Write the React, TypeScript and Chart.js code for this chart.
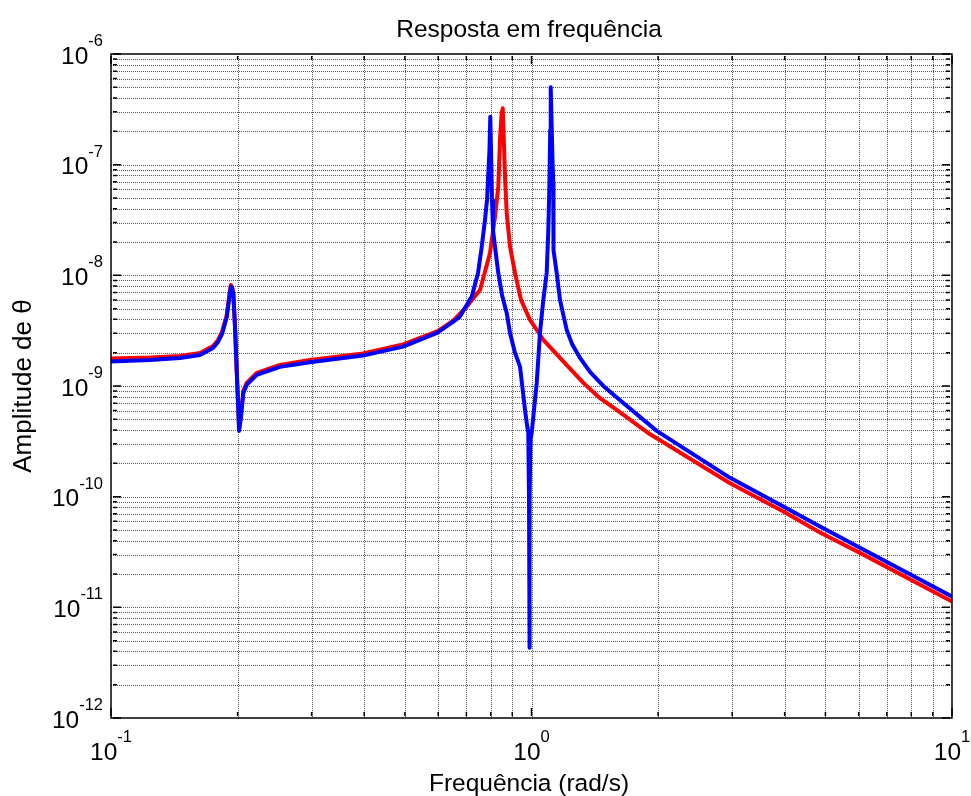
import React, { useEffect, useRef } from "react";
import { Chart, registerables } from "chart.js";

Chart.register(...registerables);

// ---- data (frequency in rad/s, amplitude) ----
const freqBlue = [
  0.1, 0.1238, 0.1459, 0.1628, 0.1748, 0.1797, 0.1837, 0.1885, 0.1912, 0.1927,
  0.194, 0.1954, 0.1972, 0.199, 0.2008, 0.2016, 0.2034, 0.2064, 0.2102, 0.2221,
  0.2523, 0.2973, 0.3975, 0.4949, 0.5963, 0.6507, 0.6761, 0.7014, 0.7209, 0.7462,
  0.7614, 0.7752, 0.7838, 0.7902, 0.7945, 0.798, 0.8011, 0.8055, 0.8099, 0.8188,
  0.8337, 0.8508, 0.873, 0.889, 0.9137, 0.9391, 0.965, 0.9757, 0.9826, 0.9865,
  0.9881, 0.9908, 0.9945, 1.0011, 1.029, 1.0476, 1.0668, 1.0867, 1.0965, 1.1036,
  1.108, 1.111, 1.1158, 1.1218, 1.1267, 1.128, 1.1478, 1.1689, 1.1902, 1.2126,
  1.2484, 1.3043, 1.3775, 1.4817, 1.6534, 1.896, 1.985, 2.966, 3.9717, 4.854,
  6.042, 10,
];
const ampBlue = [
  1.668e-9, 1.721e-9, 1.794e-9, 1.91e-9, 2.209e-9, 2.502e-9, 2.955e-9, 4.209e-9, 6.381e-9, 7.858e-9,
  7.697e-9, 6.792e-9, 3.42e-9, 1.398e-9, 6.083e-10, 3.93e-10, 4.941e-10, 8.664e-10, 1.023e-9, 1.26e-9,
  1.488e-9, 1.641e-9, 1.882e-9, 2.269e-9, 3.018e-9, 3.793e-9, 4.236e-9, 5.402e-9, 6.421e-9, 1.051e-8,
  1.816e-8, 3.167e-8, 4.798e-8, 8.956e-8, 1.358e-7, 2.714e-7, 1.358e-7, 4.798e-8, 2.571e-8, 1.816e-8,
  1.051e-8, 6.652e-9, 4.574e-9, 3.018e-9, 1.991e-9, 1.497e-9, 6.083e-10, 4.452e-10, 3.77e-10, 9.357e-11,
  4.306e-12, 9.357e-11, 3.26e-10, 3.77e-10, 1.067e-9, 3.018e-9, 5.997e-9, 1.051e-8, 2.571e-8, 7.273e-8,
  2.058e-7, 5.002e-7, 2.534e-7, 1.103e-7, 6.834e-8, 1.696e-8, 1.051e-8, 5.997e-9, 4.388e-9, 3.213e-9,
  2.401e-9, 1.794e-9, 1.341e-9, 1.002e-9, 7.035e-10, 4.546e-10, 3.93e-10, 1.479e-10, 8.14e-11, 5.37e-11,
  3.447e-11, 1.252e-11,
];

const freqRed = [
  0.1, 0.1238, 0.1459, 0.1628, 0.1748, 0.1797, 0.1837, 0.1885, 0.1912, 0.1927,
  0.194, 0.1954, 0.1972, 0.199, 0.2008, 0.2016, 0.2034, 0.2064, 0.2102, 0.2221,
  0.2523, 0.2973, 0.3975, 0.4949, 0.5963, 0.6507, 0.7014, 0.7543, 0.7967, 0.8188,
  0.8337, 0.8416, 0.8486, 0.8541, 0.8579, 0.865, 0.873, 0.889, 0.9137, 0.9441,
  0.9918, 1.029, 1.0668, 1.1689, 1.3282, 1.455, 1.5946, 1.896, 1.985, 2.966,
  3.9717, 4.854, 6.042, 10,
];
const ampRed = [
  1.775e-9, 1.813e-9, 1.87e-9, 1.991e-9, 2.302e-9, 2.608e-9, 3.082e-9, 4.388e-9, 6.652e-9, 8.191e-9,
  7.858e-9, 6.934e-9, 3.42e-9, 1.398e-9, 6.342e-10, 4.183e-10, 5.15e-10, 9.031e-10, 1.067e-9, 1.313e-9,
  1.551e-9, 1.721e-9, 1.97e-9, 2.375e-9, 3.114e-9, 3.874e-9, 5.216e-9, 7.383e-9, 1.594e-8, 3.391e-8,
  6.328e-8, 1.672e-7, 2.812e-7, 3.233e-7, 2.058e-7, 7.793e-8, 3.662e-8, 1.816e-8, 1.051e-8, 5.997e-9,
  3.954e-9, 3.213e-9, 2.608e-9, 1.794e-9, 1.067e-9, 7.76e-10, 6.083e-10, 3.746e-10, 3.377e-10, 1.324e-10,
  7.335e-11, 4.74e-11, 3.107e-11, 1.128e-11,
];

const xTickExps = [-1, 0, 1];
const yTickExps = [-12, -11, -10, -9, -8, -7, -6];
const titleText = "Resposta em frequência";
const xLabelText = "Frequência (rad/s)";
const yLabelText = "Amplitude de θ";

const FONT = '"Liberation Sans", Arial, Helvetica, sans-serif';
const BIG = 24.5;
const SMALL = 16.5;
const YLABEL = 26;

function decadeValues(minExp: number, maxExp: number) {
  const out: { v: number; major: boolean }[] = [];
  for (let e = minExp; e <= maxExp; e++) {
    for (let m = 1; m <= 9; m++) {
      if (e === maxExp && m > 1) break;
      out.push({ v: m * Math.pow(10, e), major: m === 1 });
    }
  }
  return out;
}

const matlabAxes = {
  id: "matlabAxes",
  beforeDatasetsDraw(chart: any) {
    const { ctx, chartArea: a, scales } = chart;
    const xs = scales.x;
    const ys = scales.y;
    ctx.save();
    ctx.strokeStyle = "rgba(0,0,0,0.65)";
    ctx.lineWidth = 1;
    ctx.setLineDash([1, 1]);
    for (const t of decadeValues(xTickExps[0], xTickExps[xTickExps.length - 1])) {
      const px = Math.round(xs.getPixelForValue(t.v)) + 0.5;
      if (px <= a.left + 1 || px >= a.right - 1) continue;
      ctx.beginPath();
      ctx.moveTo(px, a.top);
      ctx.lineTo(px, a.bottom);
      ctx.stroke();
    }
    for (const t of decadeValues(yTickExps[0], yTickExps[yTickExps.length - 1])) {
      const py = Math.round(ys.getPixelForValue(t.v)) + 0.5;
      if (py <= a.top + 1 || py >= a.bottom - 1) continue;
      ctx.beginPath();
      ctx.moveTo(a.left, py);
      ctx.lineTo(a.right, py);
      ctx.stroke();
    }
    ctx.restore();
  },
  afterDatasetsDraw(chart: any) {
    const { ctx, chartArea: a, scales } = chart;
    const xs = scales.x;
    const ys = scales.y;
    ctx.save();
    ctx.setLineDash([]);
    ctx.strokeStyle = "#000";
    ctx.lineWidth = 1.5;
    ctx.strokeRect(a.left, a.top, a.right - a.left, a.bottom - a.top);

    // inner ticks
    ctx.lineWidth = 1.5;
    const gap = 2;
    for (const t of decadeValues(xTickExps[0], xTickExps[xTickExps.length - 1])) {
      const px = xs.getPixelForValue(t.v);
      const len = t.major ? 8 : 4;
      ctx.beginPath();
      ctx.moveTo(px, a.bottom - gap);
      ctx.lineTo(px, a.bottom - gap - len);
      ctx.moveTo(px, a.top + gap);
      ctx.lineTo(px, a.top + gap + len);
      ctx.stroke();
    }
    for (const t of decadeValues(yTickExps[0], yTickExps[yTickExps.length - 1])) {
      const py = ys.getPixelForValue(t.v);
      const len = t.major ? 8 : 4;
      ctx.beginPath();
      ctx.moveTo(a.left + gap, py);
      ctx.lineTo(a.left + gap + len, py);
      ctx.moveTo(a.right - gap, py);
      ctx.lineTo(a.right - gap - len, py);
      ctx.stroke();
    }

    ctx.fillStyle = "#000";
    ctx.textBaseline = "alphabetic";

    // y tick labels
    for (const e of yTickExps) {
      const py = ys.getPixelForValue(Math.pow(10, e));
      const expStr = String(e);
      ctx.font = `${SMALL}px ${FONT}`;
      const ew = ctx.measureText(expStr).width;
      const xr = a.left - 8;
      ctx.textAlign = "left";
      ctx.fillText(expStr, xr - ew, py - 8);
      ctx.font = `${BIG}px ${FONT}`;
      ctx.textAlign = "right";
      ctx.fillText("10", xr - ew, py + 9.5);
    }

    // x tick labels
    for (const e of xTickExps) {
      const px = xs.getPixelForValue(Math.pow(10, e));
      const expStr = String(e);
      ctx.font = `${SMALL}px ${FONT}`;
      const ew = ctx.measureText(expStr).width;
      ctx.font = `${BIG}px ${FONT}`;
      const bw = ctx.measureText("10").width;
      const x0 = px - (bw + ew) / 2;
      ctx.textAlign = "left";
      ctx.fillText("10", x0, a.bottom + 42);
      ctx.font = `${SMALL}px ${FONT}`;
      ctx.fillText(expStr, x0 + bw, a.bottom + 24);
    }

    const cx = (a.left + a.right) / 2 - 2.5;
    ctx.font = `${BIG}px ${FONT}`;
    ctx.textAlign = "center";
    ctx.fillText(titleText, cx, a.top - 17);
    ctx.fillText(xLabelText, cx, a.bottom + 73);

    ctx.save();
    ctx.font = `${YLABEL}px ${FONT}`;
    ctx.translate(31, (a.top + a.bottom) / 2);
    ctx.rotate(-Math.PI / 2);
    ctx.textAlign = "center";
    ctx.fillText(yLabelText, 0, 0);
    ctx.restore();

    ctx.restore();
  },
};

export default function App() {
  const canvasRef = useRef<HTMLCanvasElement | null>(null);

  useEffect(() => {
    const canvas = canvasRef.current;
    if (!canvas) return;
    const chart = new Chart(canvas, {
      type: "line",
      data: {
        datasets: [
          {
            label: "azul",
            data: freqBlue.map((f, i) => ({ x: f, y: ampBlue[i] })),
            borderColor: "#0000FF",
            backgroundColor: "#0000FF",
          },
          {
            label: "vermelho",
            data: freqRed.map((f, i) => ({ x: f, y: ampRed[i] })),
            borderColor: "#FF0000",
            backgroundColor: "#FF0000",
          },
        ],
      },
      options: {
        responsive: false,
        animation: false,
        devicePixelRatio: 1,
        layout: { padding: { left: 111, top: 54, right: 19, bottom: 78 } },
        plugins: {
          legend: { display: false },
          tooltip: { enabled: false },
          title: { display: false },
        },
        elements: {
          point: { radius: 0 },
          line: {
            tension: 0,
            borderWidth: 4,
            borderJoinStyle: "round",
            borderCapStyle: "round",
            fill: false,
          },
        },
        scales: {
          x: { type: "logarithmic", min: 0.1, max: 10, display: false },
          y: { type: "logarithmic", min: 1e-12, max: 1e-6, display: false },
        },
      },
      plugins: [matlabAxes],
    });
    return () => chart.destroy();
  }, []);

  return (
    <div style={{ position: "absolute", left: 0, top: 0, width: 971, height: 796, background: "#fff" }}>
      <canvas ref={canvasRef} width={971} height={796} style={{ display: "block" }} />
    </div>
  );
}
